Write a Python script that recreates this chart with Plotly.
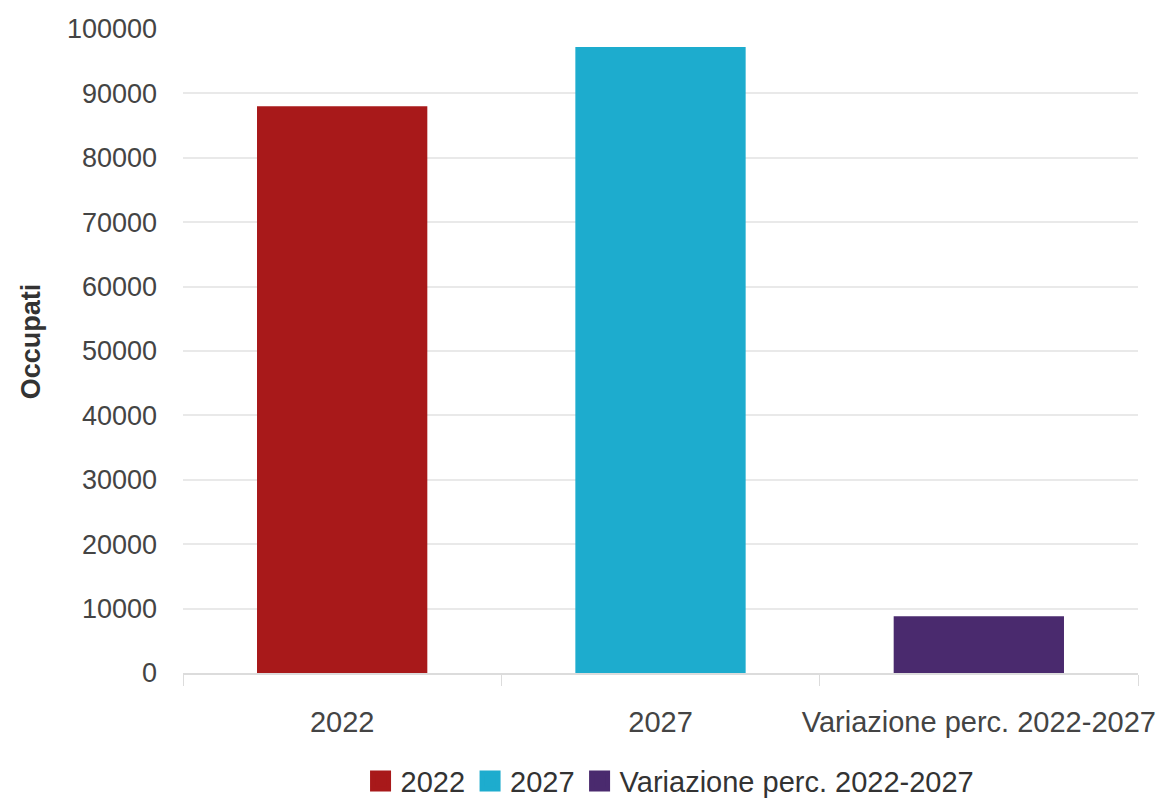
import plotly.graph_objects as go

categories = ["2022", "2027", "Variazione perc. 2022-2027"]
values = [88000, 97200, 8800]
colors = ["#A8191A", "#1DACCE", "#4A2A6E"]
y_ticks = [0, 10000, 20000, 30000, 40000, 50000, 60000, 70000, 80000, 90000, 100000]

fig = go.Figure()
for cat, val, col in zip(categories, values, colors):
    fig.add_trace(go.Bar(
        x=[cat], y=[val], name=cat, marker=dict(color=col, line=dict(width=0)),
        width=0.535, showlegend=False, legendgroup=cat,
    ))
for cat, col in zip(categories, colors):
    fig.add_trace(go.Scatter(
        x=[None], y=[None], mode="markers", name=cat, legendgroup=cat,
        marker=dict(symbol="square", size=16, color=col, line=dict(width=5, color=col)),
        showlegend=True,
    ))

fig.update_layout(
    width=1156, height=798,
    barmode="overlay",
    paper_bgcolor="white", plot_bgcolor="white",
    margin=dict(l=175, r=26, t=21, b=133, autoexpand=False),
    font=dict(family="Liberation Sans, Arial, sans-serif", color="#444444"),
    showlegend=True,
    legend=dict(orientation="h", xanchor="center", x=0.51, yanchor="middle", y=-0.168,
                font=dict(size=29, color="#333333"), itemsizing="trace", traceorder="normal"),
    annotations=[dict(
        text="<b>Occupati</b>", textangle=-90, xref="paper", yref="paper",
        x=-0.159, y=0.5155, xanchor="center", yanchor="middle", showarrow=False,
        font=dict(size=27, color="#333333"),
    )],
)
fig.update_xaxes(
    type="category", categoryorder="array", categoryarray=categories,
    range=[-0.5, 2.5], tickson="boundaries", ticks="outside", ticklen=11,
    tickcolor="#dcdcdc", showline=True, linecolor="#dcdcdc", linewidth=2,
    showgrid=False, tickfont=dict(size=29, color="#444444"), tickangle=0,
    ticklabelstandoff=22, automargin=False,
)
fig.update_yaxes(
    range=[0, 100000], tickvals=y_ticks, ticktext=[str(v) for v in y_ticks],
    showgrid=True, gridcolor="#e9e9e9", gridwidth=2, zeroline=False,
    tickfont=dict(size=27, color="#444444"), ticklabelstandoff=25,
    automargin=False,
)

fig.write_html("out.html")
